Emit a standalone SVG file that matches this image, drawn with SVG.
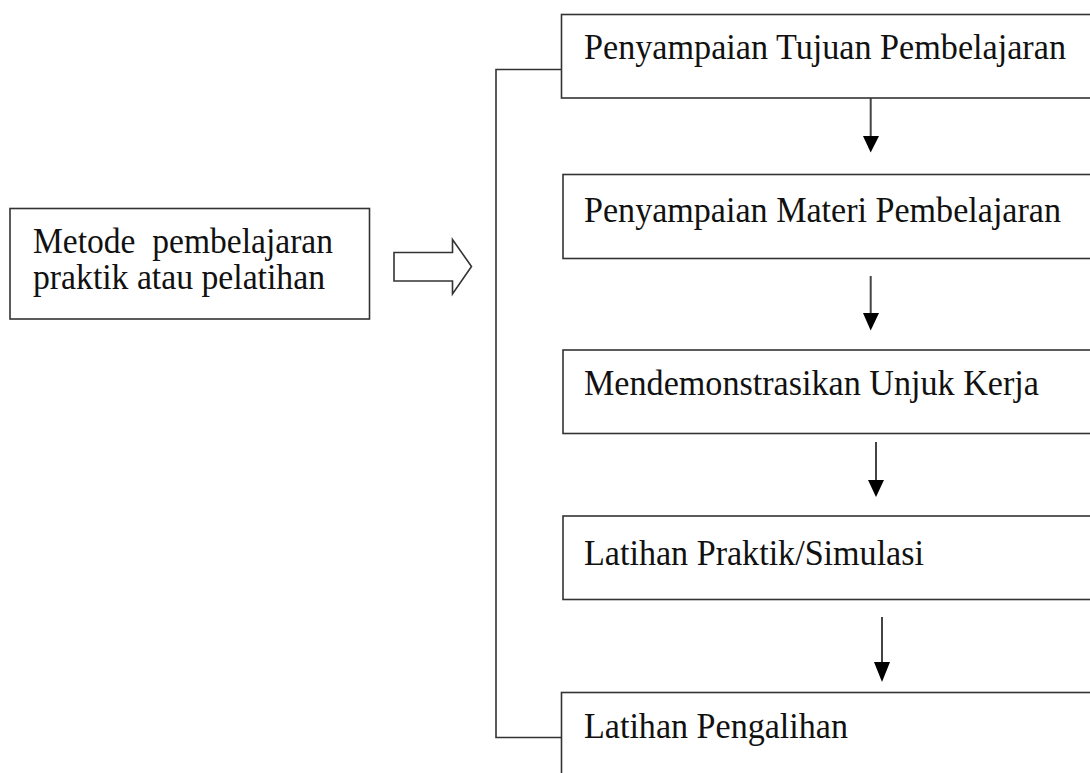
<svg xmlns="http://www.w3.org/2000/svg" width="1090" height="773" viewBox="0 0 1090 773">
<style>
.box{fill:#fff;stroke:#333;stroke-width:1.6}
.t{font-family:"Liberation Serif","Times New Roman",serif;font-size:36px;fill:#111}
.ln{fill:none;stroke:#333;stroke-width:1.6}
.ar{fill:none;stroke:#444;stroke-width:2}
.hd{fill:#000}
</style>
<rect width="1090" height="773" fill="#fff"/>
<g id="connectors">
<polyline class="ln" points="561,69.5 496,69.5 496,737.5 561,737.5"/>
<polygon class="ln" points="394,252.5 452.5,252.5 452.5,239.5 471.5,266.5 452.5,294 452.5,281 394,281" stroke="#555"/>
<line class="ar" x1="870.7" y1="98" x2="870.7" y2="137"/>
<polygon class="hd" points="863,136 879,136 870.7,152.5"/>
<line class="ar" x1="870.7" y1="276" x2="870.7" y2="314"/>
<polygon class="hd" points="863,313 879,313 870.7,330.5"/>
<line class="ar" x1="876" y1="442" x2="876" y2="481"/>
<polygon class="hd" points="868,480 884,480 876,497"/>
<line class="ar" x1="882" y1="617" x2="882" y2="663"/>
<polygon class="hd" points="874,662 890,662 882,682"/>
</g>
<g id="node-metode">
<rect class="box" x="10" y="208.5" width="359.5" height="110.5"/>
<text class="t" x="33" y="253" xml:space="preserve" textLength="300" lengthAdjust="spacingAndGlyphs">Metode  pembelajaran</text>
<text class="t" x="33" y="289" textLength="292" lengthAdjust="spacingAndGlyphs">praktik atau pelatihan</text>
</g>
<g id="node-tujuan">
<rect class="box" x="561.5" y="14.5" width="540" height="83.5"/>
<text class="t" x="584" y="59" textLength="482" lengthAdjust="spacingAndGlyphs">Penyampaian Tujuan Pembelajaran</text>
</g>
<g id="node-materi">
<rect class="box" x="563" y="174.5" width="540" height="84"/>
<text class="t" x="584" y="222" textLength="477" lengthAdjust="spacingAndGlyphs">Penyampaian Materi Pembelajaran</text>
</g>
<g id="node-demonstrasi">
<rect class="box" x="563" y="350" width="540" height="83.5"/>
<text class="t" x="584" y="395" textLength="455" lengthAdjust="spacingAndGlyphs">Mendemonstrasikan Unjuk Kerja</text>
</g>
<g id="node-latihan">
<rect class="box" x="563" y="516" width="540" height="83.5"/>
<text class="t" x="584" y="565" textLength="340" lengthAdjust="spacingAndGlyphs">Latihan Praktik/Simulasi</text>
</g>
<g id="node-pengalihan">
<rect class="box" x="561.5" y="692.5" width="540" height="100"/>
<text class="t" x="584" y="738" textLength="264" lengthAdjust="spacingAndGlyphs">Latihan Pengalihan</text>
</g>
</svg>
